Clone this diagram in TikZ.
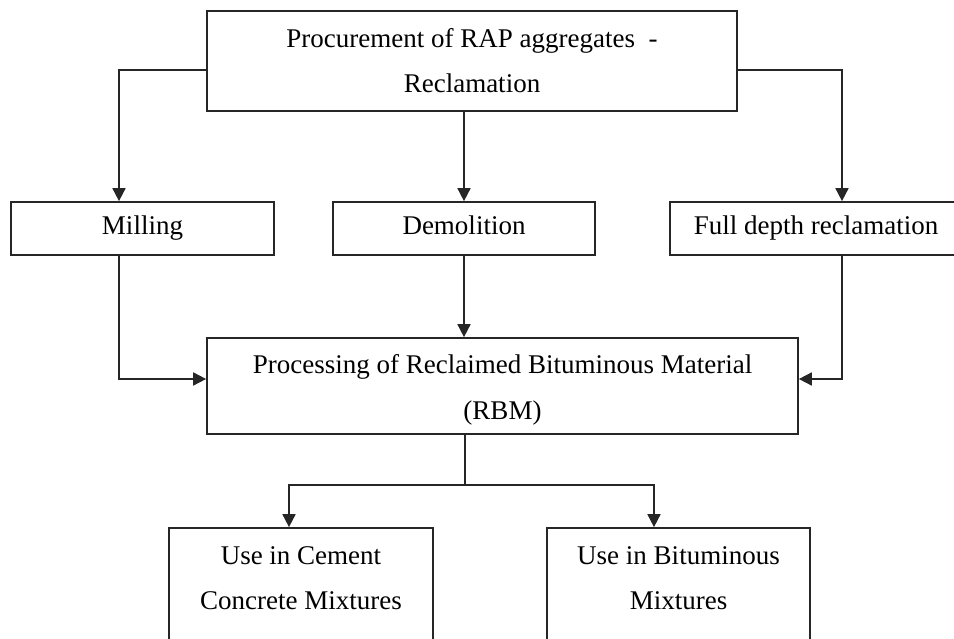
\documentclass[tikz,border=0pt]{standalone}
\usepackage{fontspec}
\setmainfont{Liberation Serif}
\usetikzlibrary{arrows.meta}
\begin{document}
\begin{tikzpicture}[x=1pt,y=-1pt,
  box/.style={draw=black!85,line width=1.7pt,inner sep=0pt,align=center,
    font=\fontsize{27}{45}\selectfont},
  lbl/.style={inner sep=0pt,align=center,font=\fontsize{27}{46}\selectfont},
  onel/.style={text height=18pt,text depth=6pt},
  conn/.style={draw=black!85,line width=1.7pt},
  arr/.style={conn,-{Triangle[length=13pt,width=13pt]}}]
\clip (0,0) rectangle (954,639);
\fill[white] (0,0) rectangle (954,639);
\node[box,minimum width=530,minimum height=100] (top) at (472,61)
  {Procurement of RAP aggregates \ -\\Reclamation};
\node[box,onel,minimum width=263,minimum height=53] (mil) at (142.5,228.5) {Milling};
\node[box,onel,minimum width=262,minimum height=53] (dem) at (464,228.5) {Demolition};
\node[box,onel,minimum width=292,minimum height=53] (fdr) at (816,228.5) {Full depth reclamation};
\node[box,minimum width=591,minimum height=96] (proc) at (502.5,386) {};
\node[lbl] (proctext) at (502.5,390)
  {Processing of Reclaimed Bituminous Material\\(RBM)};
\node[box,minimum width=264,minimum height=188] (cem) at (301,622)
  {Use in Cement\\Concrete Mixtures\\[42pt]\mbox{}};
\node[box,minimum width=263,minimum height=188] (bit) at (678.5,622)
  {Use in Bituminous\\Mixtures\\[42pt]\mbox{}};
\coordinate (tl) at (119,70);
\coordinate (tr) at (842,70);
\coordinate (ml) at (119,379);
\coordinate (fr) at (842,379);
\coordinate (pj) at (465,485);
\coordinate (bl) at (289,485);
\coordinate (br) at (654,485);
\draw[arr] (top.west |- tl) -- (tl) -- (tl |- mil.north);
\draw[arr] (top.south -| dem.north) -- (dem.north);
\draw[arr] (top.east |- tr) -- (tr) -- (tr |- fdr.north);
\draw[arr] (mil.south -| ml) -- (ml) -- (proc.west |- ml);
\draw[arr] (dem.south) -- (dem.south |- proc.north);
\draw[arr] (fdr.south -| fr) -- (fr) -- (proc.east |- fr);
\draw[conn] (proc.south -| pj) -- (pj);
\draw[arr] (pj) -- (bl) -- (bl |- cem.north);
\draw[arr] (pj) -- (br) -- (br |- bit.north);
\end{tikzpicture}
\end{document}
